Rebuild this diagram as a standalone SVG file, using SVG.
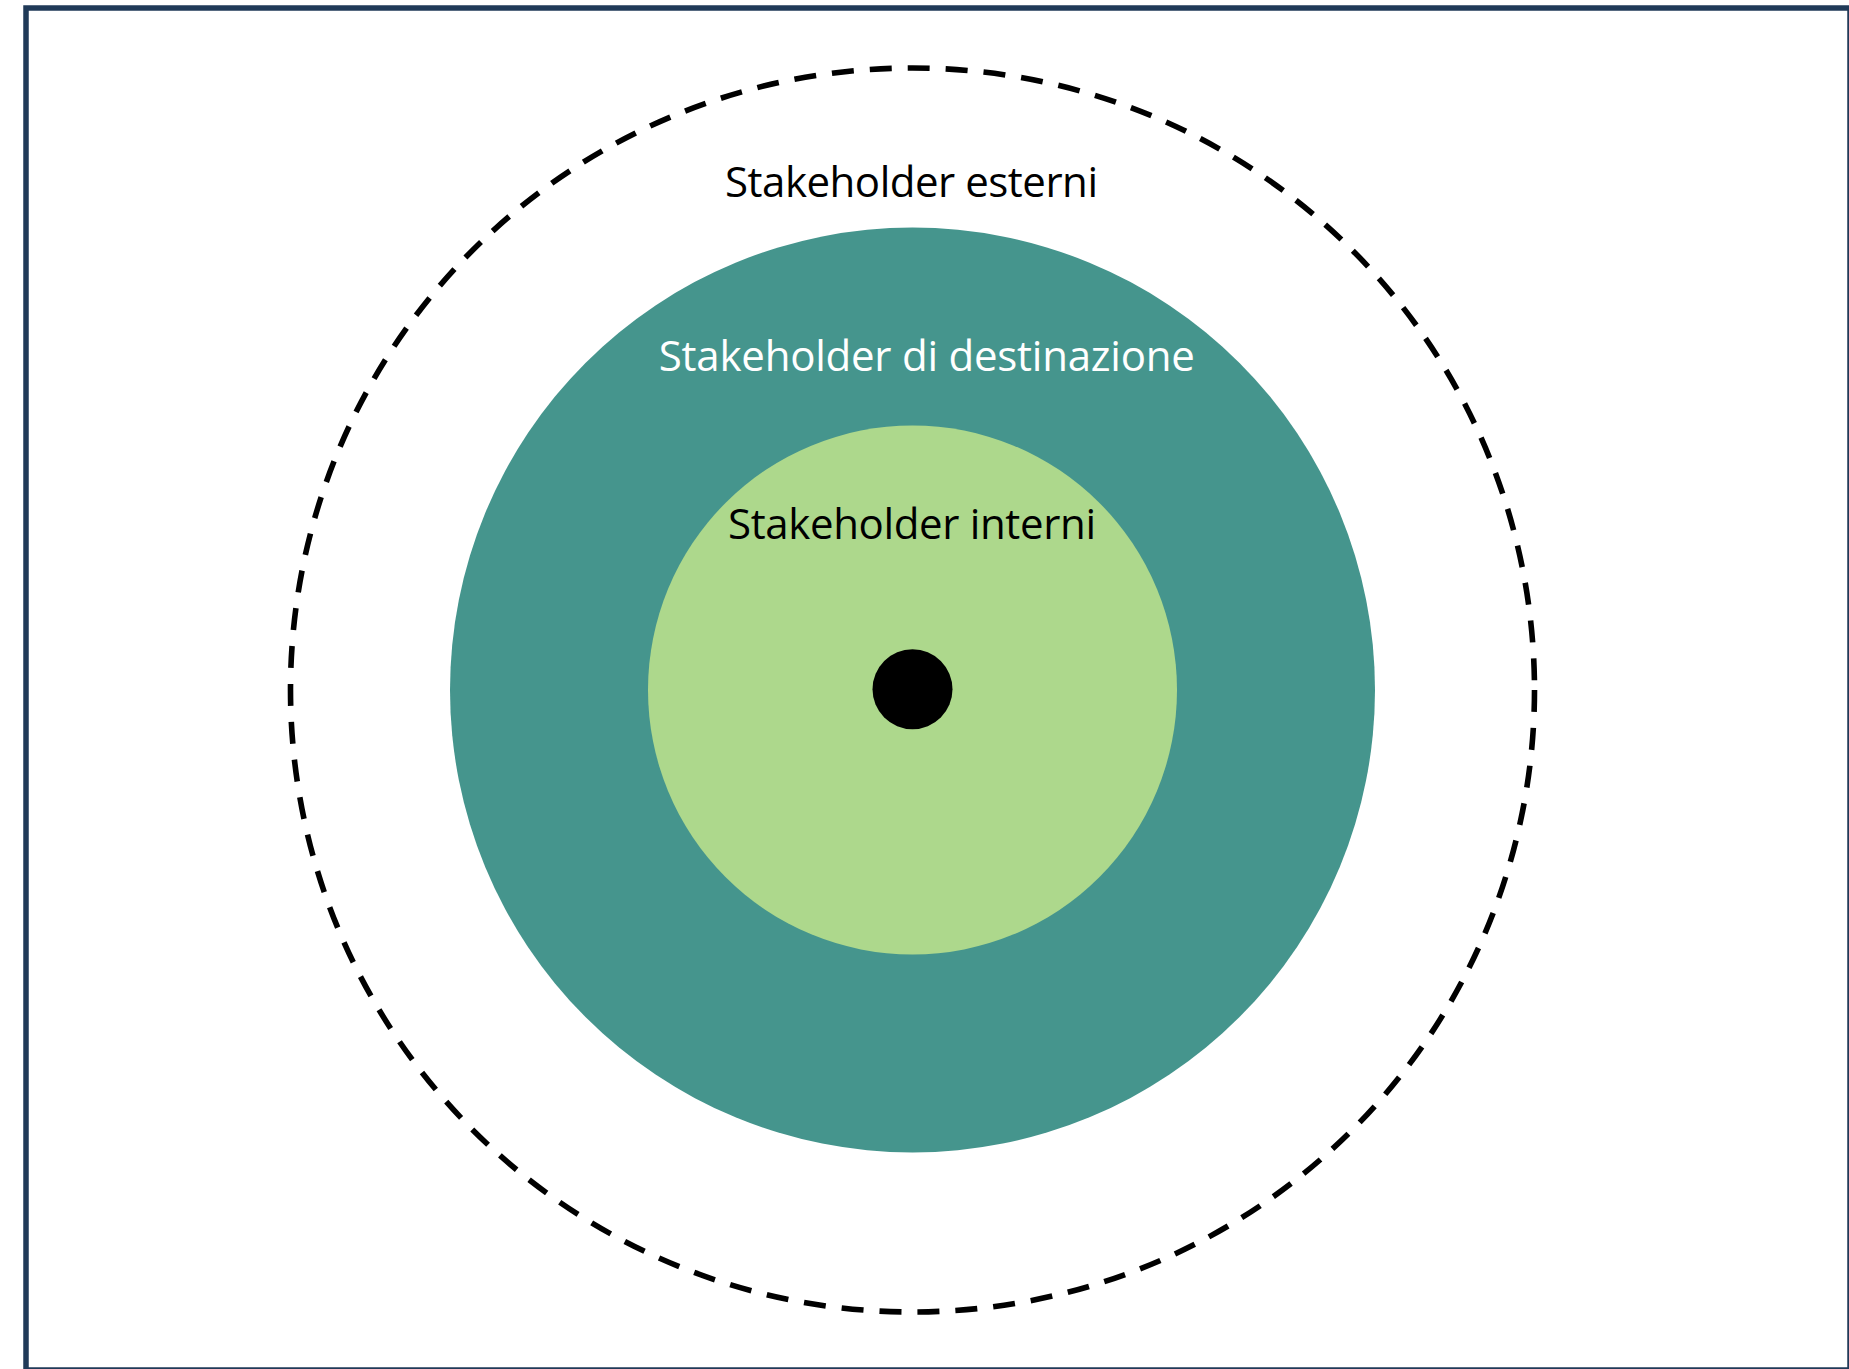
<svg xmlns="http://www.w3.org/2000/svg" width="1849" height="1369" viewBox="0 0 1849 1369">
  <style>
    .label { font-family: "Open Sans", "Noto Sans", "Liberation Sans", sans-serif; font-size: 42px; text-anchor: middle; }
    .dark { fill: #000000; }
    .light { fill: #ffffff; }
  </style>
  <rect width="1849" height="1369" fill="#ffffff"/>
  <!-- frame -->
  <rect id="frame" x="26" y="8" width="1824" height="1362" fill="none" stroke="#203a58" stroke-width="5.5"/>

  <!-- outer ring: external stakeholders -->
  <g id="external">
    <circle cx="912.5" cy="690" r="622" fill="none" stroke="#000000" stroke-width="5.6" stroke-dasharray="22 16"/>
    <text class="label dark" x="911.5" y="196.7" textLength="373" lengthAdjust="spacing">Stakeholder esterni</text>
  </g>

  <!-- middle disc: destination stakeholders -->
  <g id="destination">
    <circle cx="912.5" cy="690" r="462.5" fill="#45958d"/>
    <text class="label light" x="926.8" y="370.5" textLength="536" lengthAdjust="spacing">Stakeholder di destinazione</text>
  </g>

  <!-- inner disc: internal stakeholders -->
  <g id="internal">
    <circle cx="912.5" cy="690" r="264.5" fill="#add88c"/>
    <text class="label dark" x="912" y="539.3" textLength="368" lengthAdjust="spacing">Stakeholder interni</text>
  </g>

  <!-- centre point -->
  <g id="center">
    <circle cx="912.5" cy="689.2" r="40" fill="#000000"/>
  </g>
</svg>
